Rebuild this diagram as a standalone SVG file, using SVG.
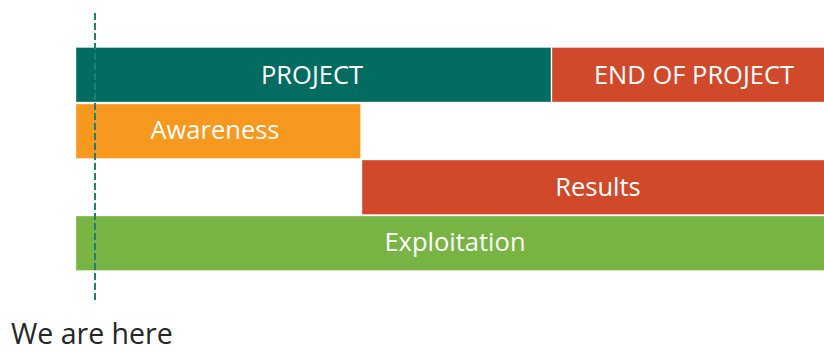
<svg xmlns="http://www.w3.org/2000/svg" width="824" height="351" viewBox="0 0 824 351">
<style>
.bar{stroke:#ffffff;stroke-opacity:0.35;stroke-width:1}
.lbl{font-family:"Open Sans","Liberation Sans",sans-serif;font-size:25.5px;fill:#ffffff;text-anchor:middle}
.note{font-family:"Open Sans","Liberation Sans",sans-serif;font-size:28.5px;fill:#262626}
</style>
<rect width="824" height="351" fill="#ffffff"/>
<g id="project"><rect class="bar" x="76" y="47.5" width="475" height="54.5" fill="#036C61"/><text class="lbl" x="312" y="84">PROJECT</text></g>
<g id="end-of-project"><rect class="bar" x="552" y="47.5" width="284" height="54.5" fill="#D0492B"/><text class="lbl" x="694" y="84">END OF PROJECT</text></g>
<g id="awareness"><rect class="bar" x="76" y="104" width="284.5" height="54.5" fill="#F7981F"/><text class="lbl" x="215" y="139">Awareness</text></g>
<g id="results"><rect class="bar" x="362" y="160" width="474" height="54.5" fill="#D0492B"/><text class="lbl" x="598" y="196">Results</text></g>
<g id="exploitation"><rect class="bar" x="76" y="216" width="760" height="54.5" fill="#77B443"/><text class="lbl" x="455" y="251">Exploitation</text></g>
<g id="connectors"><line x1="95" y1="13" x2="95" y2="302" stroke="#1E8075" stroke-width="2" stroke-dasharray="7,3"/></g>
<g id="we-are-here"><text class="note" x="11" y="344">We are here</text></g>
</svg>
